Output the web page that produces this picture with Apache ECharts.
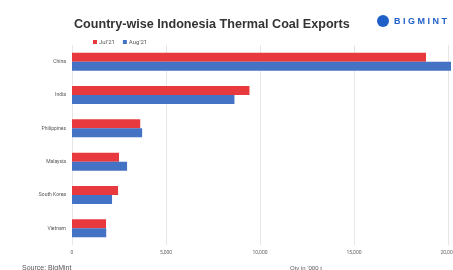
<!DOCTYPE html>
<html>
<head>
<meta charset="utf-8">
<script src="https://cdn.jsdelivr.net/npm/echarts@6/dist/echarts.min.js"></script>
<style>
  html, body { margin: 0; padding: 0; background: #fff; }
  #chart { width: 453px; height: 270px; }
</style>
</head>
<body>
<div id="chart"></div>
<script>
const countries = ['China', 'India', 'Philippines', 'Malaysia', 'South Korea', 'Vietnam']
const jul21 = [18830, 9440, 3630, 2500, 2450, 1810]
const aug21 = [20160, 8640, 3730, 2930, 2130, 1820]
const seriesNames = ["Jul'21", "Aug'21"]

const chart = echarts.init(document.getElementById('chart'))
chart.setOption({
  animation: false,
  textStyle: { fontFamily: 'Roboto' },
  title: {
    text: 'Country-wise Indonesia Thermal Coal Exports',
    left: 69,
    top: 13,
    textStyle: { fontSize: 12.6, fontWeight: 'bold', color: '#333', fontFamily: 'Liberation Sans' }
  },
  legend: {
    data: seriesNames,
    left: 88,
    top: 34,
    itemWidth: 4,
    itemHeight: 4,
    itemGap: 8,
    icon: 'rect',
    textStyle: { fontSize: 6, color: '#555', padding: [0, 0, 0, -3] }
  },
  graphic: [
    {
      type: 'text',
      left: 394,
      top: 17,
      style: { text: 'B I G M I N T', fontSize: 9, fontWeight: 'bold', fill: '#1f5fc8' }
    },
    {
      type: 'circle',
      shape: { cx: 383, cy: 21, r: 6 },
      style: { fill: '#1f5fc8' }
    },
    {
      type: 'text',
      left: 22,
      top: 265,
      style: { text: 'Source: BigMint', fontSize: 7, fill: '#555' }
    },
    {
      type: 'text',
      left: 290,
      top: 265,
      style: { text: "Qty in '000 t", fontSize: 6, fill: '#555' }
    }
  ],
  grid: { top: 45, bottom: 25, left: 72, right: 5, outerBoundsMode: 'none' },
  xAxis: {
    type: 'value',
    min: 0,
    max: 20000,
    interval: 5000,
    axisLine: { show: false },
    axisTick: { show: false },
    splitLine: { lineStyle: { color: '#e6e6e6' } },
    axisLabel: {
      fontSize: 5,
      color: '#666',
      margin: 5,
      alignMaxLabel: 'center',
      formatter: v => v.toLocaleString('en-US')
    }
  },
  yAxis: {
    type: 'category',
    data: countries,
    inverse: true,
    axisLine: { show: false },
    axisTick: { show: false },
    axisLabel: { fontSize: 5, color: '#555', margin: 6 }
  },
  series: [
    {
      name: seriesNames[0],
      type: 'bar',
      data: jul21,
      barWidth: 9,
      barGap: '0%',
      clip: false,
      itemStyle: { color: '#e83a3e' }
    },
    {
      name: seriesNames[1],
      type: 'bar',
      data: aug21,
      barWidth: 9,
      clip: false,
      itemStyle: { color: '#4472c4' }
    }
  ]
})
</script>
</body>
</html>
